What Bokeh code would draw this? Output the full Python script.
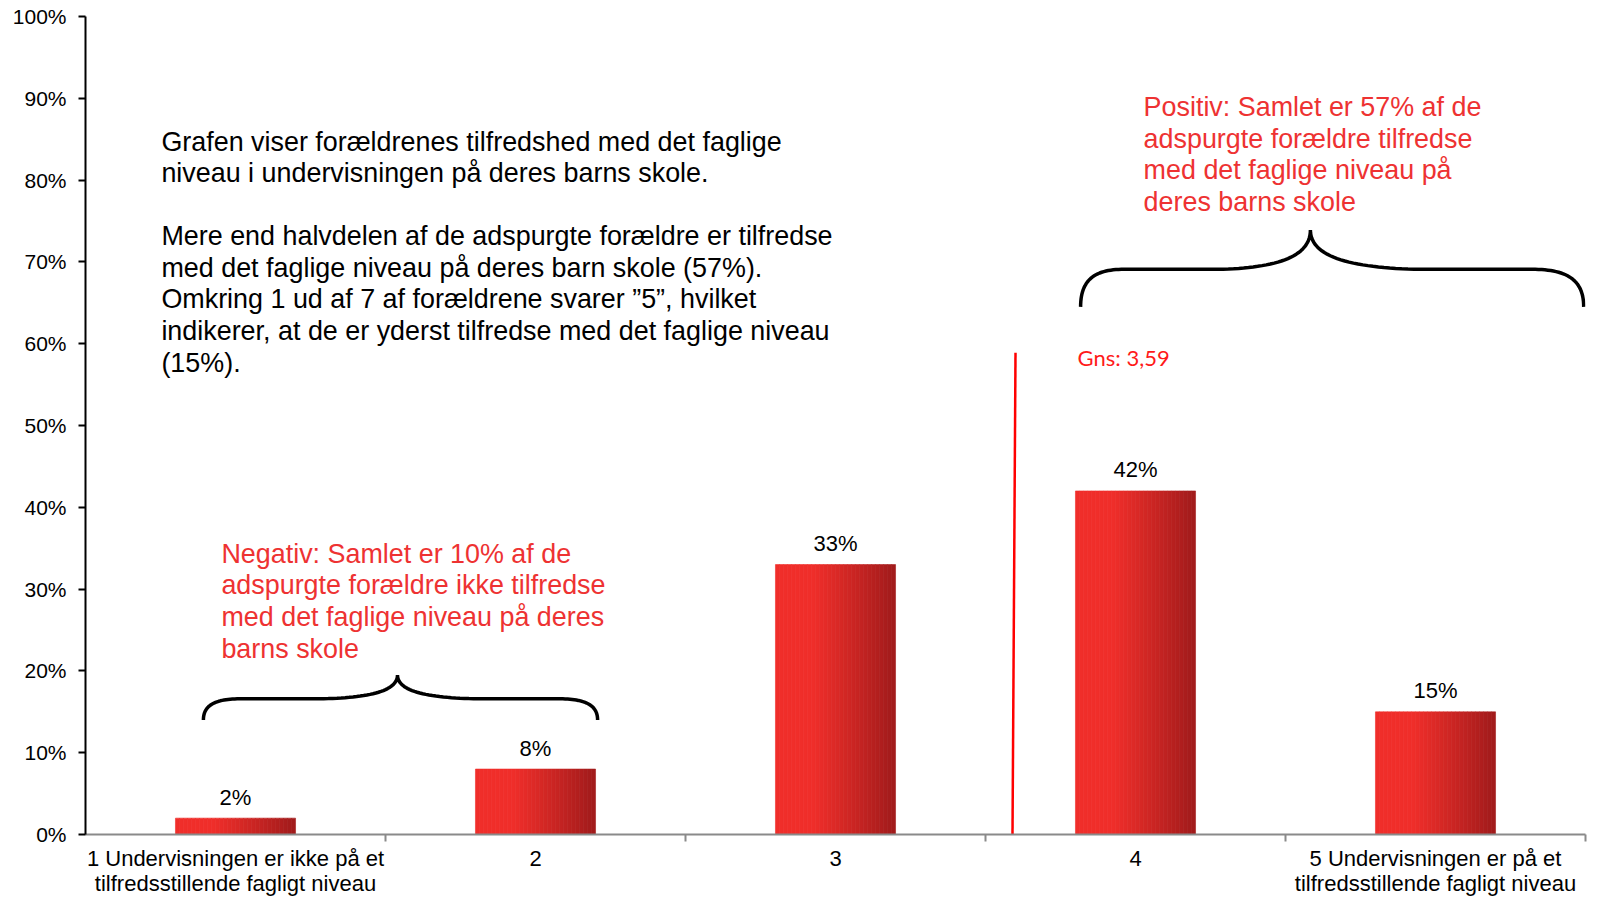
import numpy as np
from bokeh.plotting import figure
from bokeh.models import Range1d, FixedTicker
from bokeh.core.properties import value
from bokeh.embed import file_html
from bokeh.resources import INLINE

# ---------------- data ----------------
categories = [1, 2, 3, 4, 5]
cat_labels = [
    "1 Undervisningen er ikke på et\ntilfredsstillende fagligt niveau",
    "2",
    "3",
    "4",
    "5 Undervisningen er på et\ntilfredsstillende fagligt niveau",
]
shares = [2, 8, 33, 42, 15]          # percent
mean_score = 3.59
mean_label = "Gns: 3,59"
y_ticks = [0, 10, 20, 30, 40, 50, 60, 70, 80, 90, 100]

info_lines = [
    "Grafen viser forældrenes tilfredshed med det faglige",
    "niveau i undervisningen på deres barns skole.",
    "",
    "Mere end halvdelen af de adspurgte forældre er tilfredse",
    "med det faglige niveau på deres barn skole (57%).",
    "Omkring 1 ud af 7 af forældrene svarer ”5”, hvilket",
    "indikerer, at de er yderst tilfredse med det faglige niveau",
    "(15%).",
]
pos_lines = [
    "Positiv: Samlet er 57% af de",
    "adspurgte forældre tilfredse",
    "med det faglige niveau på",
    "deres barns skole",
]
neg_lines = [
    "Negativ: Samlet er 10% af de",
    "adspurgte forældre ikke tilfredse",
    "med det faglige niveau på deres",
    "barns skole",
]

FONT = "Liberation Sans"
RED_TXT = "#EE3232"

# ---------------- figure ----------------
p = figure(width=1597, height=898, output_backend="svg", toolbar_location=None,
           x_range=Range1d(0.5, 5.5), y_range=Range1d(0, 100),
           min_border_left=85, min_border_right=12, min_border_top=16, min_border_bottom=63)
p.outline_line_color = None
p.grid.visible = False
p.background_fill_color = "white"

# y axis
ya = p.yaxis[0]
ya.ticker = FixedTicker(ticks=y_ticks, minor_ticks=[])
ya.major_label_overrides = {t: f"{t}%" for t in y_ticks}
ya.axis_line_color = "black"
ya.axis_line_width = 2
ya.major_tick_line_color = "black"
ya.major_tick_line_width = 2
ya.major_tick_out = 7
ya.major_tick_in = 0
ya.minor_tick_line_color = None
ya.major_label_standoff = 12
ya.major_label_text_font = FONT
ya.major_label_text_font_size = "21px"
ya.major_label_text_color = "black"

# x axis: ticks at category boundaries, labels at category centres
xa = p.xaxis[0]
xa.ticker = FixedTicker(ticks=categories, minor_ticks=[c + 0.5 for c in categories])
xa.major_label_overrides = {c: lab for c, lab in zip(categories, cat_labels)}
xa.axis_line_color = "#8A8A8A"
xa.axis_line_width = 2
xa.major_tick_line_color = None
xa.major_tick_out = 7
xa.major_tick_in = 0
xa.minor_tick_line_color = "#8A8A8A"
xa.minor_tick_line_width = 2
xa.minor_tick_out = 7
xa.minor_tick_in = 0
xa.major_label_text_font = FONT
xa.major_label_text_font_size = "22px"
xa.major_label_text_color = "black"
xa.major_label_text_line_height = 1.0
xa.major_label_standoff = 4

# ---------------- gradient bars ----------------
bar_w = 0.4
n_strips = 30
c0 = np.array([0xF0, 0x2E, 0x2A])
c1 = np.array([0xA0, 0x1B, 0x1B])
xs, tops, ws, cols = [], [], [], []
for c, v in zip(categories, shares):
    for k in range(n_strips):
        t = (k + 0.5) / n_strips
        tt = max(0.0, (t - 0.3) / 0.7) ** 1.1
        col = c0 + (c1 - c0) * tt
        xs.append(c - bar_w / 2 + bar_w * t)
        tops.append(v)
        ws.append(bar_w / n_strips * 1.02)
        cols.append("#%02x%02x%02x" % tuple(int(round(q)) for q in col))
p.vbar(x=xs, top=tops, bottom=0, width=ws, fill_color=cols, line_color=cols, line_width=0.6)

# value labels
p.text(x=categories, y=shares, text=[f"{v}%" for v in shares], y_offset=-21,
       text_align="center", text_baseline="middle",
       text_font=value(FONT), text_font_size="22px", text_color="black")

# mean line
p.segment(x0=[mean_score], y0=[0], x1=[mean_score + 0.01], y1=[58.9], line_color="#FF0000", line_width=2.5)
p.text(x=[mean_score + 0.217], y=[58.3], text=[mean_label], text_align="left", text_baseline="middle",
       text_font=value("Lato"), text_font_size="22px", text_color="#FF1A1A")

# ---------------- text blocks ----------------
line_step = 31.6 / 8.19


def text_block(lines, x, y_first, color):
    ys = [y_first - i * line_step for i in range(len(lines))]
    p.text(x=[x] * len(lines), y=ys, text=lines, text_align="left", text_baseline="middle",
           text_font=value(FONT), text_font_size="26.9px", text_color=color)


text_block(info_lines, 0.753, 84.7, "black")
text_block(pos_lines, 4.027, 88.9, RED_TXT)
text_block(neg_lines, 0.953, 34.3, RED_TXT)


# ---------------- braces ----------------
def bez(p0, p1, p2, p3, n=30):
    t = np.linspace(0, 1, n)[:, None]
    pts = ((1 - t) ** 3) * np.array(p0) + 3 * ((1 - t) ** 2) * t * np.array(p1) \
        + 3 * (1 - t) * t ** 2 * np.array(p2) + t ** 3 * np.array(p3)
    return pts


def brace(xl, xc, xr, ye, yh, yc, fo=0.2, fi=0.38):
    L = xc - xl
    R = xr - xc
    a = xl + fo * L
    b = xc - fi * L
    c = xc + fi * R
    d = xr - fo * R
    segs = [
        bez((xl, ye), (xl, ye + 0.75 * (yh - ye)), (xl + 0.35 * (a - xl), yh), (a, yh)),
        bez((a, yh), (a + (b - a) / 3, yh), (b - (b - a) / 3, yh), (b, yh)),
        bez((b, yh), (b + 0.6 * (xc - b), yh + 0.05 * (yc - yh)), (xc, yh + 0.3 * (yc - yh)), (xc, yc)),
        bez((xc, yc), (xc, yh + 0.3 * (yc - yh)), (c - 0.6 * (c - xc), yh + 0.05 * (yc - yh)), (c, yh)),
        bez((c, yh), (c + (d - c) / 3, yh), (d - (d - c) / 3, yh), (d, yh)),
        bez((d, yh), (d + 0.65 * (xr - d), yh), (xr, ye + 0.75 * (yh - ye)), (xr, ye)),
    ]
    pts = np.vstack(segs)
    return list(pts[:, 0]), list(pts[:, 1])


bx1, by1 = brace(0.893, 1.54, 2.207, 14.0, 16.6, 19.5)
bx2, by2 = brace(3.817, 4.583, 5.494, 64.5, 69.1, 73.9, fo=0.19)
p.multi_line(xs=[bx1, bx2], ys=[by1, by2], line_color="black", line_width=3.5)

open("out.html", "w").write(file_html(p, INLINE))
